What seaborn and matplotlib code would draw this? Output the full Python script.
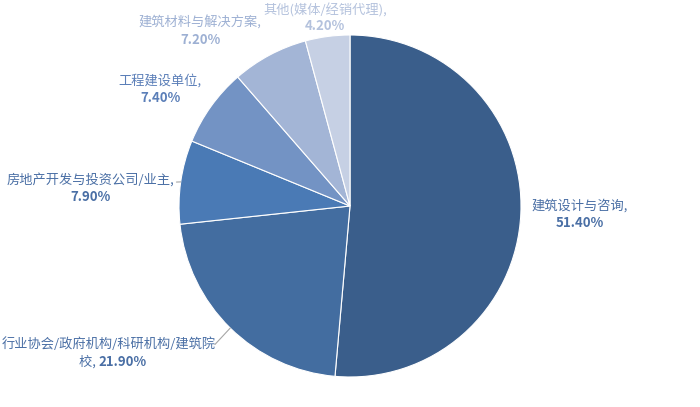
import numpy as np
import matplotlib
matplotlib.use('Agg')
import matplotlib.pyplot as plt
import seaborn as sns

# Data
categories = ['建筑设计与咨询', '行业协会/政府机构/科研机构/建筑院校', '房地产开发与投资公司/业主',
              '工程建设单位', '建筑材料与解决方案', '其他(媒体/经销代理)']
shares = [51.4, 21.9, 7.9, 7.4, 7.2, 4.2]
slice_colors = ['#3A5E8B', '#436DA0', '#4A7AB5', '#7393C4', '#A3B5D6', '#C6D0E4']
text_colors = ['#4A6FA5', '#4A6FA5', '#4A6FA5', '#5B7FB8', '#9DB0D3', '#B4C2DD']

sns.set_style('white')
plt.rcParams['font.family'] = ['Noto Sans CJK SC', 'DejaVu Sans']

fig = plt.figure(figsize=(7.0, 4.07), dpi=100)
ax = fig.add_axes([0, 0, 1, 1])

wedges, _ = ax.pie(shares, colors=slice_colors, startangle=90, counterclock=False,
                   radius=1.0, wedgeprops=dict(edgecolor='white', linewidth=0.8))

# canvas: pie centre at (350, 206) px, radius 171 px
ax.set_xlim(-350 / 171, 350 / 171)
ax.set_ylim(-(407 - 206) / 171, 206 / 171)
ax.set_aspect('equal')
ax.axis('off')

# label layout (pie radius units): x, y of the label block centre, half line gap
label_pos = [(1.345, -0.05, 0.05), (-1.41, -0.86, 0.05), (-1.52, 0.105, 0.05),
             (-1.11, 0.684, 0.05), (-0.877, 1.023, 0.05), (-0.146, 1.098, 0.045)]
fs = 9.5

for i, (name, val) in enumerate(zip(categories, shares)):
    x, y, gap = label_pos[i]
    c = text_colors[i]
    pct = f'{val:.2f}%'
    if i == 1:
        ax.text(x, y + gap, '行业协会/政府机构/科研机构/建筑院', color=c, fontsize=fs,
                ha='center', va='center')
        ax.text(x - 0.06, y - gap, '校, ', color=c, fontsize=fs, ha='right', va='center')
        ax.text(x - 0.06, y - gap, pct, color=c, fontsize=fs, ha='left', va='center',
                fontweight='bold')
    else:
        ax.text(x, y + gap, name + ',', color=c, fontsize=fs, ha='center', va='center')
        ax.text(x, y - gap, pct, color=c, fontsize=fs, ha='center', va='center',
                fontweight='bold')

# leader lines for the two left-side labels
for i, end in [(1, (-0.79, -0.81)), (2, (-1.015, 0.14))]:
    w = wedges[i]
    mid = np.deg2rad((w.theta1 + w.theta2) / 2)
    ax.plot([np.cos(mid), end[0]], [np.sin(mid), end[1]], color='#A6A6A6', linewidth=0.8)

fig.savefig('out.png', dpi=100)
